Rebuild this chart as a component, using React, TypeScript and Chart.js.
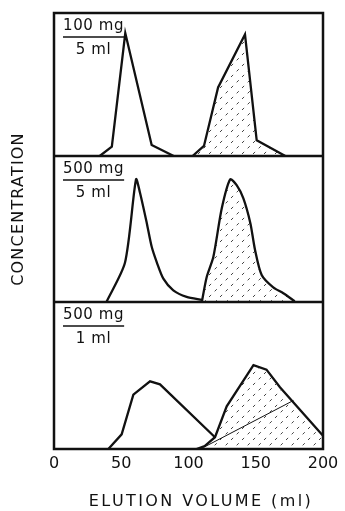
import React, { useEffect, useRef } from "react";
import { Chart, registerables } from "chart.js";

Chart.register(...registerables);

// x ticks (elution volume, ml)
const xTicks = [0, 50, 100, 150, 200];
const xTitle = "ELUTION VOLUME (ml)";
const yTitle = "CONCENTRATION";
const panelLabels = [
  ["100 mg", "5 ml"],
  ["500 mg", "5 ml"],
  ["500 mg", "1 ml"],
];

// Panel 1: 100 mg / 5 ml
const p1FirstX = [34, 43, 53, 72.6, 89];
const p1FirstY = [0, 0.065, 0.86, 0.077, 0];
const p1SecondX = [103, 111.5, 122, 142, 150.7, 172];
const p1SecondY = [0, 0.07, 0.48, 0.85, 0.11, 0];

// Panel 2: 500 mg / 5 ml
const p2FirstX = [39, 52.8, 61, 63.9, 69, 72.6, 76.5, 81.3, 88.7, 98.6, 110];
const p2FirstY = [0, 0.27, 0.84, 0.75, 0.54, 0.38, 0.27, 0.16, 0.08, 0.035, 0.015];
const p2SecondX = [110, 113.5, 118.5, 124.7, 131, 135.8, 140.8, 146, 149.4, 154.4, 163, 170.5, 179];
const p2SecondY = [0.005, 0.17, 0.31, 0.64, 0.84, 0.8, 0.71, 0.54, 0.36, 0.185, 0.1, 0.06, 0.005];

// Panel 3: 500 mg / 1 ml
const p3FirstX = [40.4, 50.3, 59, 71.4, 78.8, 119.7];
const p3FirstY = [0, 0.1, 0.37, 0.46, 0.44, 0.08];
const p3SecondX = [106, 112, 119.7, 128.4, 148.3, 158, 168, 200];
const p3SecondY = [0, 0.02, 0.08, 0.29, 0.57, 0.54, 0.42, 0.09];
const p3SplitX = [111, 178];
const p3SplitY = [0.01, 0.33];

const pts = (xs: number[], ys: number[]) => xs.map((x, i) => ({ x, y: ys[i] }));

function makeHatch(): CanvasPattern | string {
  const c = document.createElement("canvas");
  c.width = 11;
  c.height = 11;
  const g = c.getContext("2d");
  if (!g) return "rgba(0,0,0,0.1)";
  g.strokeStyle = "#444";
  g.lineWidth = 1;
  g.setLineDash([3, 5]);
  g.beginPath();
  g.moveTo(0, 11);
  g.lineTo(11, 0);
  g.stroke();
  return g.createPattern(c, "repeat") || "rgba(0,0,0,0.1)";
}

const INK = "#111";

export default function App() {
  const ref = useRef<HTMLCanvasElement>(null);

  useEffect(() => {
    document.body.style.margin = "0";
    document.body.style.background = "#fff";
    const canvas = ref.current;
    if (!canvas) return;
    const hatch = makeHatch();

    const line = (data: any, yAxisID: string, opts: any = {}) => ({
      data,
      yAxisID,
      xAxisID: "x",
      borderColor: INK,
      borderWidth: 2.3,
      pointRadius: 0,
      tension: 0,
      fill: false,
      ...opts,
    });

    const framePlugin = {
      id: "frame",
      afterDatasetsDraw(chart: any) {
        const { ctx, chartArea: a, scales } = chart;
        ctx.save();
        ctx.strokeStyle = INK;
        ctx.lineWidth = 2.5;
        ctx.strokeRect(a.left, a.top, a.right - a.left, a.bottom - a.top);
        for (const id of ["y1", "y2"]) {
          const b = scales[id].bottom;
          ctx.beginPath();
          ctx.moveTo(a.left, b);
          ctx.lineTo(a.right, b);
          ctx.stroke();
        }
        ctx.fillStyle = INK;
        ctx.font = '15px "DejaVu Sans"';
        (ctx as any).letterSpacing = "0.6px";
        ["y1", "y2", "y3"].forEach((id, i) => {
          const t = scales[id].top;
          const [num, den] = panelLabels[i];
          const x0 = a.left + 9;
          ctx.textAlign = "left";
          ctx.textBaseline = "middle";
          ctx.fillText(num, x0, t + 13);
          const w = ctx.measureText(num).width;
          ctx.lineWidth = 1.5;
          ctx.beginPath();
          ctx.moveTo(x0, t + 24);
          ctx.lineTo(x0 + w, t + 24);
          ctx.stroke();
          ctx.textAlign = "center";
          ctx.fillText(den, x0 + w / 2, t + 37);
        });
        // axis titles
        ctx.font = '16px "DejaVu Sans"';
        (ctx as any).letterSpacing = "2.4px";
        ctx.textAlign = "center";
        ctx.textBaseline = "middle";
        ctx.fillText(xTitle, 201, 502);
        (ctx as any).letterSpacing = "1.2px";
        ctx.translate(19, 209);
        ctx.rotate(-Math.PI / 2);
        ctx.fillText(yTitle, 0, 0);
        ctx.restore();
      },
    };

    const yAxis = (weight: number) => ({
      type: "linear",
      min: 0,
      max: 1,
      position: "left",
      stack: "panels",
      stackWeight: weight,
      offset: false,
      ticks: { display: false },
      grid: { display: false, drawTicks: false },
      border: { display: false },
      afterFit: (s: any) => {
        s.width = 54;
      },
    });

    const chart = new Chart(canvas, {
      type: "line",
      data: {
        datasets: [
          line(pts(p1FirstX, p1FirstY), "y1"),
          line(pts(p1SecondX, p1SecondY), "y1", { fill: "origin", backgroundColor: hatch }),
          line(pts(p2FirstX, p2FirstY), "y2", { tension: 0.25 }),
          line(pts(p2SecondX, p2SecondY), "y2", { tension: 0.25, fill: "origin", backgroundColor: hatch }),
          line(pts(p3FirstX, p3FirstY), "y3"),
          line(pts(p3SecondX, p3SecondY), "y3", { fill: "origin", backgroundColor: hatch }),
          line(pts(p3SplitX, p3SplitY), "y3", { borderWidth: 1 }),
        ] as any,
      },
      options: {
        responsive: false,
        animation: false,
        layout: { padding: { top: 13, right: 22, left: 0, bottom: 0 } },
        plugins: { legend: { display: false }, tooltip: { enabled: false } },
        scales: {
          x: {
            type: "linear",
            min: 0,
            max: 200,
            position: "bottom",
            afterBuildTicks: (s: any) => {
              s.ticks = xTicks.map((v) => ({ value: v }));
            },
            ticks: {
              color: INK,
              font: { family: "DejaVu Sans", size: 16 },
              padding: 5,
              maxRotation: 0,
              autoSkip: false,
            },
            grid: { display: false, drawTicks: false },
            border: { display: false },
            afterFit: (s: any) => {
              s.height = 62;
            },
          },
          y3: yAxis(147),
          y2: yAxis(146),
          y1: yAxis(143),
        } as any,
      },
      plugins: [framePlugin],
    });
    return () => chart.destroy();
  }, []);

  return (
    <div style={{ width: 345, height: 511, background: "#fff" }}>
      <canvas ref={ref} width={345} height={511} style={{ display: "block" }} />
    </div>
  );
}
